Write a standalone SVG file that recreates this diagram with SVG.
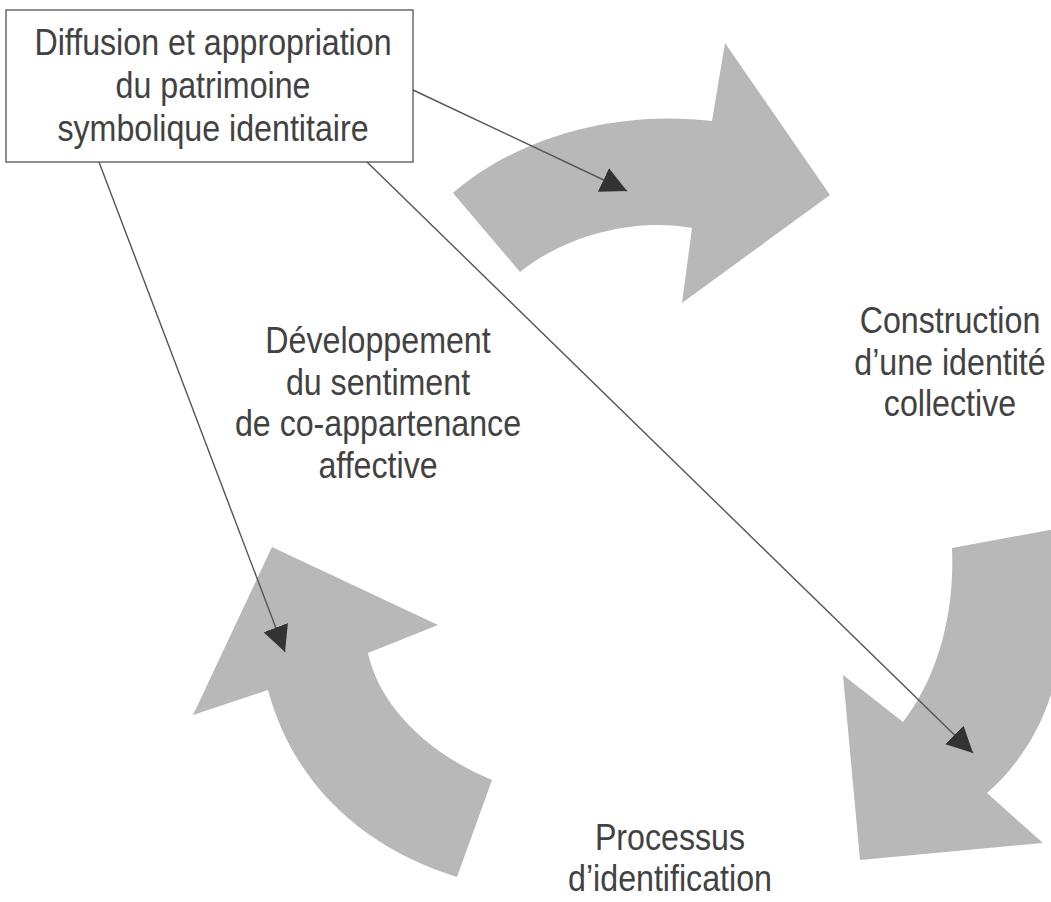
<svg xmlns="http://www.w3.org/2000/svg" width="1051" height="902" viewBox="0 0 1051 902">
<style>
.bg{fill:#ffffff}
.big{fill:#b8b8b8;stroke:none}
.box{fill:#ffffff;stroke:#6a6a6a;stroke-width:1.5}
.lbl{font-family:"Liberation Sans",Arial,sans-serif;font-size:37px;fill:#424242;text-anchor:middle}
.conn{fill:none;stroke:#555555;stroke-width:1.4}
</style>
<defs>
<marker id="ah" markerUnits="userSpaceOnUse" markerWidth="27" markerHeight="27" refX="26" refY="13" orient="auto" viewBox="0 0 27 27">
<path d="M0,0 L26,13 L0,26 Z" fill="#333333"/>
</marker>
</defs>
<rect class="bg" x="0" y="0" width="1051" height="902"/>
<g id="arrow-top">
<path class="big" d="M453,193 C520,135 620,110 712,121 L725,43 L830,195 L682,303 L692,228 C640,218 570,232 520,272 Z"/>
</g>
<g id="arrow-left">
<path class="big" d="M272,547 L438,625 L368,653 C378,700 420,750 492,780 L457,877 C370,850 295,790 268,690 L193,715 Z"/>
</g>
<g id="arrow-right">
<path class="big" d="M952,548 L1060,528 L1060,650 C1054,710 1025,760 987,793 L1043,843 L860,860 L843,675 L903,722 C935,680 955,620 952,548 Z"/>
</g>
<g id="node-diffusion">
<rect class="box" x="6" y="10" width="407" height="152"/>
<text class="lbl" transform="translate(213,55) scale(0.87,1)">Diffusion et appropriation</text>
<text class="lbl" transform="translate(213,98) scale(0.87,1)">du patrimoine</text>
<text class="lbl" transform="translate(213,141) scale(0.87,1)">symbolique identitaire</text>
</g>
<g id="node-construction">
<text class="lbl" transform="translate(950,333) scale(0.87,1)">Construction</text>
<text class="lbl" transform="translate(950,375) scale(0.87,1)">d’une identité</text>
<text class="lbl" transform="translate(950,416) scale(0.87,1)">collective</text>
</g>
<g id="node-developpement">
<text class="lbl" transform="translate(378,353) scale(0.87,1)">Développement</text>
<text class="lbl" transform="translate(378,395) scale(0.87,1)">du sentiment</text>
<text class="lbl" transform="translate(378,436) scale(0.87,1)">de co-appartenance</text>
<text class="lbl" transform="translate(378,478) scale(0.87,1)">affective</text>
</g>
<g id="node-processus">
<text class="lbl" transform="translate(670,850) scale(0.87,1)">Processus</text>
<text class="lbl" transform="translate(670,891) scale(0.87,1)">d’identification</text>
</g>
<g id="connectors">
<line class="conn" x1="413" y1="90" x2="627" y2="191" marker-end="url(#ah)"/>
<line class="conn" x1="99" y1="162" x2="285" y2="652" marker-end="url(#ah)"/>
<line class="conn" x1="367" y1="162" x2="973" y2="753" marker-end="url(#ah)"/>
</g>
</svg>
